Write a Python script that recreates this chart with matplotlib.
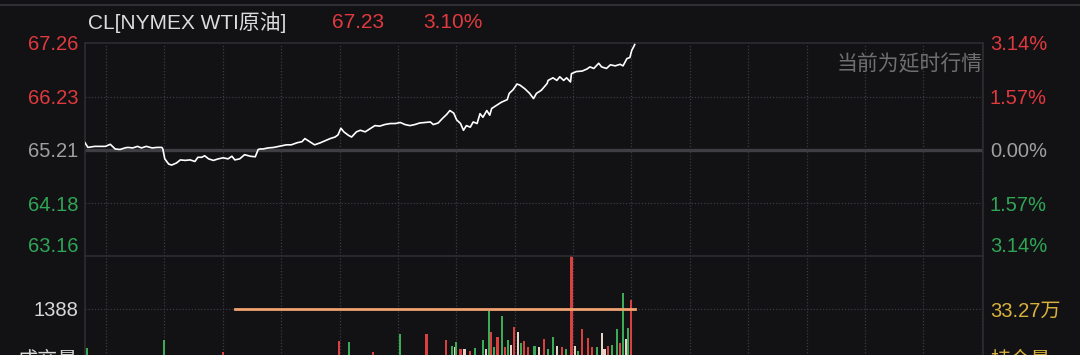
import numpy as np
import matplotlib.pyplot as plt
from matplotlib.lines import Line2D

plt.rcParams['font.family'] = ['Liberation Sans', 'Noto Sans CJK SC', 'DejaVu Sans']

# session length in minutes, hourly grid offset
session_minutes = 923
hour_grid = np.arange(21.6, session_minutes, 60)

# price line: minutes since open, price
price_time = [0, 3, 10, 15, 21, 26, 31, 36, 41, 44, 49, 54, 58, 63, 69, 74, 79, 80,
              82, 86, 89, 94, 98, 103, 108, 113, 116, 120, 123, 127, 132, 137, 142, 147,
              151, 154, 159, 164, 170, 175, 178, 180, 183, 188, 194, 199, 204, 207, 212,
              218, 223, 226, 231, 236, 242, 247, 252, 257, 260, 263, 266, 271, 274, 279,
              283, 288, 293, 298, 303, 308, 314, 319, 324, 329, 334, 339, 344, 350, 355,
              358, 363, 367, 372, 375, 379, 382, 386, 389, 392, 396, 399, 403, 406, 409,
              413, 416, 418, 423, 428, 434, 436, 440, 444, 447, 452, 457, 461, 464, 469,
              475, 476, 481, 485, 488, 492, 495, 499, 500, 505, 511, 516, 519, 523, 528,
              531, 536, 540, 545, 550, 553, 557, 560, 562, 564, 565]
price = [65.34, 65.25, 65.27, 65.27, 65.27, 65.31, 65.22, 65.21, 65.24, 65.25, 65.24,
         65.27, 65.24, 65.27, 65.24, 65.25, 65.25, 65.22, 65.03, 64.93, 64.91, 64.95,
         65.01, 65.00, 65.01, 64.98, 65.06, 65.06, 65.09, 65.03, 65.00, 65.03, 65.05,
         65.03, 65.08, 65.01, 65.03, 65.11, 65.08, 65.07, 65.21, 65.22, 65.22, 65.24,
         65.25, 65.27, 65.29, 65.30, 65.30, 65.34, 65.36, 65.42, 65.36, 65.30, 65.34,
         65.38, 65.42, 65.45, 65.49, 65.62, 65.55, 65.48, 65.45, 65.55, 65.58, 65.55,
         65.61, 65.67, 65.66, 65.69, 65.71, 65.71, 65.73, 65.69, 65.67, 65.69, 65.72,
         65.73, 65.74, 65.69, 65.72, 65.80, 65.89, 65.96, 65.91, 65.78, 65.71, 65.58,
         65.67, 65.64, 65.74, 65.71, 65.90, 65.83, 65.96, 65.87, 66.00, 66.06, 66.12,
         66.17, 66.29, 66.36, 66.47, 66.45, 66.38, 66.29, 66.19, 66.29, 66.35, 66.48,
         66.54, 66.59, 66.54, 66.61, 66.54, 66.59, 66.51, 66.67, 66.71, 66.72, 66.76,
         66.80, 66.77, 66.87, 66.80, 66.77, 66.84, 66.82, 66.85, 66.82, 66.96, 66.98,
         67.12, 67.19, 67.23]

price_ticks = [67.26, 66.23, 65.21, 64.18, 63.16]
price_labels = ['67.26', '66.23', '65.21', '64.18', '63.16']
pct_labels = ['3.14%', '1.57%', '0.00%', '1.57%', '3.14%']
prev_close = 65.21

# volume bars: minute, volume, colour key
vol_time = [2, 81, 142, 261, 271, 296, 324, 351, 371, 377, 380, 381, 386, 390, 396,
            401, 409, 412, 415, 417, 420, 424, 429, 432, 435, 438, 441, 445, 448, 451,
            455, 462, 467, 472, 476, 481, 485, 490, 494, 500, 504, 507, 511, 517, 521,
            526, 531, 534, 538, 542, 547, 550, 553, 556, 558, 561]
vol = [367, 576, 262, 550, 524, 262, 733, 733, 576, 419, 380, 524, 330, 330, 300,
       360, 576, 350, 1336, 786, 380, 655, 1205, 400, 576, 450, 917, 786, 500, 550,
       380, 419, 400, 602, 350, 655, 420, 400, 330, 2770, 420, 300, 864, 629, 380,
       400, 760, 350, 419, 445, 864, 500, 1807, 600, 890, 1624]
vol_side = ['g', 'g', 'r', 'r', 'g', 'r', 'g', 'r', 'r', 'g', 'w', 'g', 'r', 'w', 'r',
            'g', 'g', 'w', 'g', 'r', 'g', 'r', 'g', 'r', 'g', 'w', 'r', 'w', 'g', 'r',
            'r', 'g', 'w', 'r', 'g', 'g', 'w', 'r', 'g', 'r', 'w', 'g', 'r', 'r', 'r',
            'g', 'w', 'w', 'r', 'g', 'g', 'r', 'g', 'w', 'g', 'r']
vol_mid = 1388

# open interest (flat orange line)
oi_time = [154, 565]
oi = [332700, 332700]

bg = '#121215'
red = '#e0393e'
green = '#2fa656'
gray = '#a0a0a2'
grid_c = '#3b3b40'
side_colors = {'r': '#d9403f', 'g': '#3bab57', 'w': '#e8d3c8'}

fig = plt.figure(figsize=(10.8, 3.55), dpi=100)
fig.patch.set_facecolor(bg)

W, H = 1080, 355
left, right = 85 / W, 983 / W

ax = fig.add_axes([left, 1 - 256 / H, right - left, 213 / H])
ax_v = fig.add_axes([left, 1 - 362 / H, right - left, 106 / H])

for a in (ax, ax_v):
    a.set_facecolor(bg)
    a.set_xlim(0, session_minutes)
    a.set_xticks(hour_grid)
    a.tick_params(axis='x', length=0, labelbottom=False)
    a.grid(True, axis='x', color=grid_c, ls=(0, (1, 1.5)), lw=0.9)
    for s in ('left', 'right', 'top'):
        a.spines[s].set_color('#2c2c31')
        a.spines[s].set_linewidth(1.2)
    a.spines['bottom'].set_visible(False)

# price panel
ax.set_ylim(price_ticks[-1], price_ticks[0])
for p in price_ticks[1:]:
    if p == prev_close:
        ax.axhline(p, color='#3e3e43', lw=2.4, zorder=1)
    else:
        ax.axhline(p, color=grid_c, ls=(0, (1, 1.5)), lw=0.9, zorder=1)
ax.plot(price_time, price, color='white', lw=1.2, zorder=3)

tick_colors = [red, red, gray, green, green]
ax.set_yticks(price_ticks)
ax.set_yticklabels(price_labels, fontsize=14.5)
ax.tick_params(axis='y', length=0, pad=5)
for lab, c in zip(ax.get_yticklabels(), tick_colors):
    lab.set_color(c)
ax.get_yticklabels()[-1].set_va('bottom')

ax_r = ax.twinx()
ax_r.set_ylim(ax.get_ylim())
ax_r.set_yticks(price_ticks)
ax_r.set_yticklabels(pct_labels, fontsize=14.5)
ax_r.tick_params(axis='y', length=0, pad=5)
for lab, c in zip(ax_r.get_yticklabels(), tick_colors):
    lab.set_color(c)
ax_r.get_yticklabels()[-1].set_va('bottom')
for s in ax_r.spines.values():
    s.set_visible(False)

ax.text(1.0, 0.9, '当前为延时行情', transform=ax.transAxes, ha='right', va='center',
        fontsize=15, color='#6f6f70')

# volume panel
ax_v.set_ylim(0, 2 * vol_mid)
ax_v.axhline(vol_mid, color=grid_c, ls=(0, (1, 1.5)), lw=0.9, zorder=1)
ax_v.bar(vol_time, vol, width=2.2, color=[side_colors[s] for s in vol_side], zorder=2)
ax_v.set_yticks([vol_mid])
ax_v.set_yticklabels([str(vol_mid)], fontsize=14.5, color='#d8d8d8')
ax_v.tick_params(axis='y', length=0, pad=5)

ax_oi = ax_v.twinx()
ax_oi.set_ylim(0, 2 * oi[0])
ax_oi.plot(oi_time, oi, color='#f2a271', lw=2, zorder=4)
ax_oi.set_yticks([oi[0]])
ax_oi.set_yticklabels(['%.2f万' % (oi[0] / 10000)], fontsize=14.5, color='#d9b13b')
ax_oi.tick_params(axis='y', length=0, pad=5)
for s in ax_oi.spines.values():
    s.set_visible(False)

# header
fig.add_artist(Line2D([0, 1], [1 - 5 / H, 1 - 5 / H], color='#2f2f34', lw=1.5))
fig.text(88 / W, 1 - 22 / H, 'CL[NYMEX WTI原油]', fontsize=15, color='#dcdcdc',
         ha='left', va='center')
fig.text(332 / W, 1 - 22 / H, '%.2f' % price[-1], fontsize=15, color=red,
         ha='left', va='center')
fig.text(423 / W, 1 - 22 / H, '3.10%', fontsize=15, color=red, ha='left', va='center')

# bottom labels (cut off by the frame)
fig.text(78 / W, 1 - 360 / H, '成交量', fontsize=14.5, color='#d8d8d8', ha='right', va='center')
fig.text(990 / W, 1 - 360 / H, '持仓量', fontsize=14.5, color='#d9b13b', ha='left', va='center')

fig.savefig('out.png', dpi=100, facecolor=bg)
